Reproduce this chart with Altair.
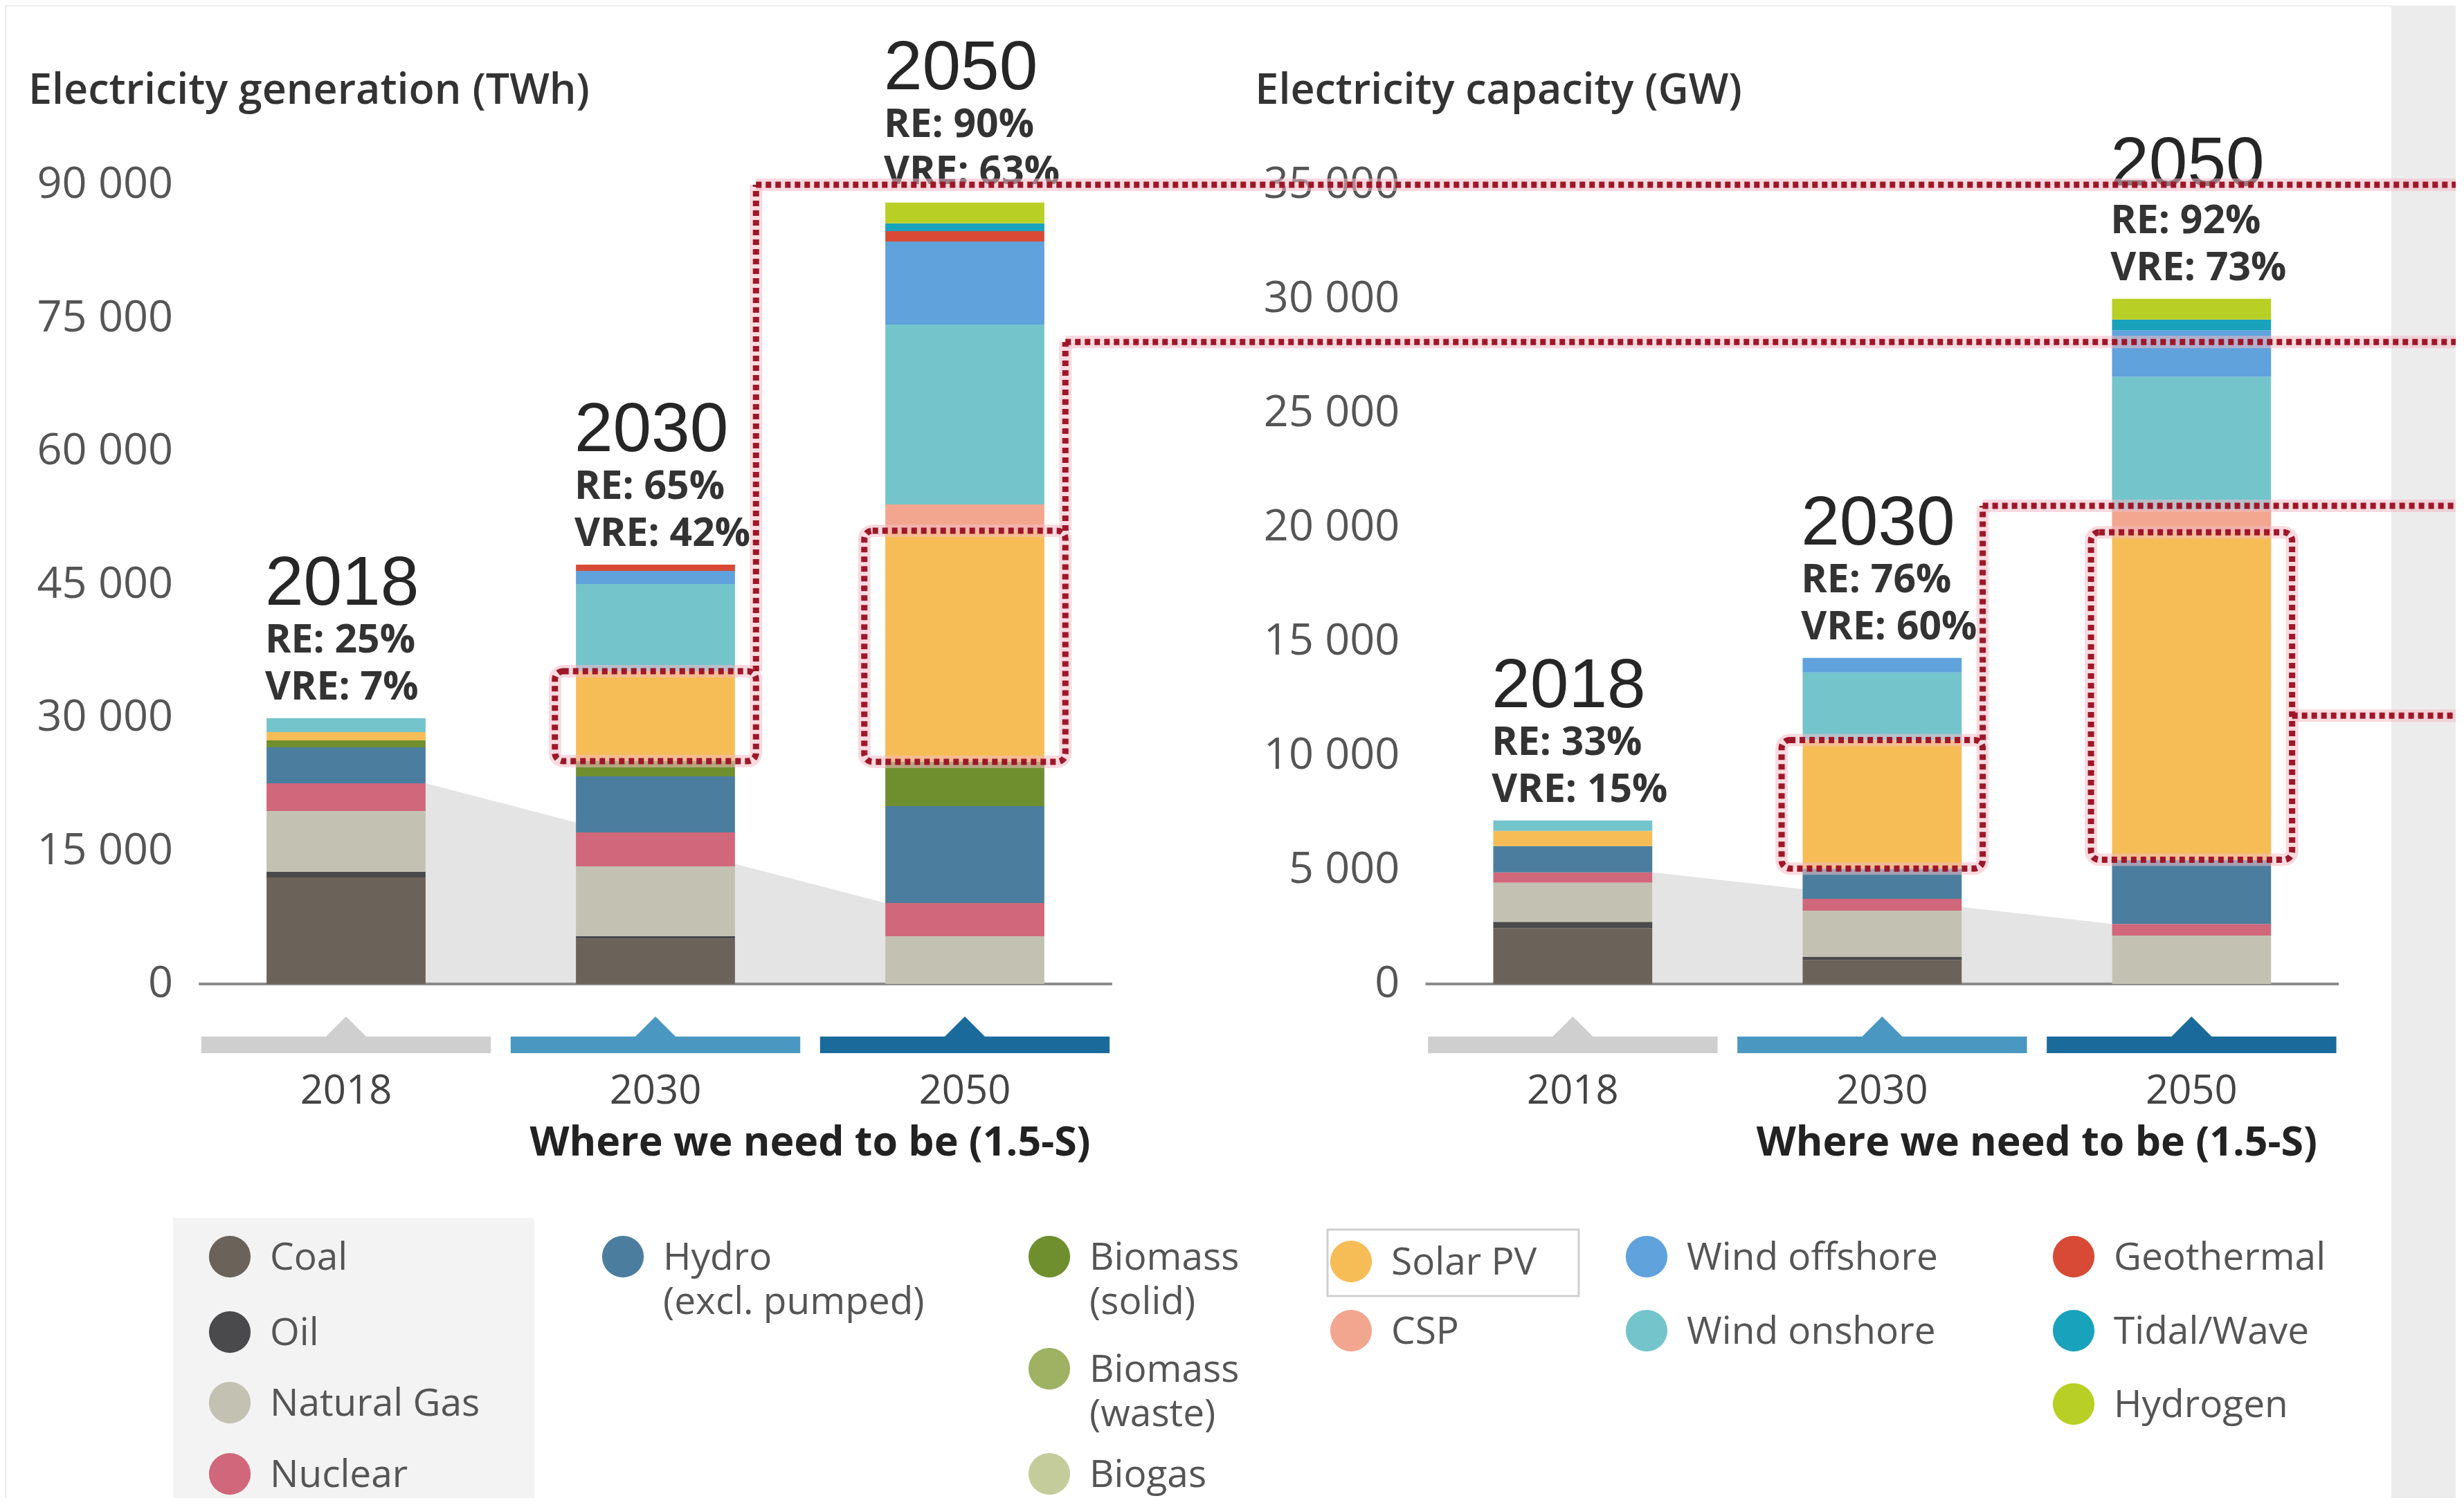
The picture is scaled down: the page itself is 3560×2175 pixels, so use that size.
import altair as alt
import pandas as pd

# ---------------- data ----------------
years = ["2018", "2030", "2050"]
techs = ["Coal", "Oil", "Natural Gas", "Nuclear", "Hydro (excl. pumped)",
         "Biomass (solid)", "Biomass (waste)", "Biogas", "Solar PV", "CSP",
         "Wind onshore", "Wind offshore", "Geothermal", "Tidal/Wave", "Hydrogen"]
tech_colors = ["#6b625a", "#4a4a4c", "#c3c1b2", "#d0677a", "#4b7e9e",
               "#6f8f2f", "#9fb163", "#c5cc9c", "#f6bd57", "#f2a690",
               "#74c4cc", "#5fa2dc", "#d84a36", "#19a2bb", "#b8cf25"]
fossil_techs = ["Coal", "Oil", "Natural Gas", "Nuclear"]

# Electricity generation (TWh)
gen_2018 = [12000, 620, 6860, 3120, 4050, 780, 0, 0, 940, 0, 1560, 0, 0, 0, 0]
gen_2030 = [5080, 300, 7870, 3820, 6310, 1715, 0, 0, 10130, 0, 9820, 1480, 700, 0, 0]
gen_2050 = [0, 0, 5380, 3740, 10910, 4990, 0, 0, 26030, 2960, 20260, 9350, 1170, 860, 2340]
# Electricity capacity (GW)
cap_2018 = [2450, 270, 1720, 450, 1150, 0, 0, 0, 665, 0, 455, 0, 0, 0, 0]
cap_2030 = [1050, 130, 2030, 515, 1330, 0, 0, 0, 5630, 0, 2960, 635, 0, 0, 0]
cap_2050 = [0, 0, 2120, 510, 2810, 0, 0, 0, 14340, 1000, 5810, 2030, 0, 480, 910]

gen_re = ["RE: 25%", "RE: 65%", "RE: 90%"]
gen_vre = ["VRE: 7%", "VRE: 42%", "VRE: 63%"]
cap_re = ["RE: 33%", "RE: 76%", "RE: 92%"]
cap_vre = ["VRE: 15%", "VRE: 60%", "VRE: 73%"]

gen_ticks = [0, 15000, 30000, 45000, 60000, 75000, 90000]
cap_ticks = [0, 5000, 10000, 15000, 20000, 25000, 30000, 35000]

panel_titles = ["Electricity generation (TWh)", "Electricity capacity (GW)"]
scenario_label = "Where we need to be (1.5-S)"
band_colors = ["#cfcfcf", "#4a97c2", "#1a6b9b"]

# connector levels (in each panel's own units)
gen_link_levels = [90000, 72300]      # from 2030 box, 2050 box
cap_link_levels = [20940, 11750]      # from 2030 box, 2050 box (2050 goes straight right)

legend_items = [  # label, column, row (pixel row centre)
    ("Coal", 0, 1816), ("Oil", 0, 1925), ("Natural Gas", 0, 2027), ("Nuclear", 0, 2130),
    ("Hydro (excl. pumped)", 1, 1816),
    ("Biomass (solid)", 2, 1816), ("Biomass (waste)", 2, 1978), ("Biogas", 2, 2130),
    ("Solar PV", 3, 1823), ("CSP", 3, 1923),
    ("Wind offshore", 4, 1816), ("Wind onshore", 4, 1923),
    ("Geothermal", 5, 1816), ("Tidal/Wave", 5, 1923), ("Hydrogen", 5, 2029),
]
legend_text = {"Hydro (excl. pumped)": "Hydro\n(excl. pumped)",
               "Biomass (solid)": "Biomass\n(solid)",
               "Biomass (waste)": "Biomass\n(waste)"}

# ---------------- layout ----------------
W, H = 3540, 2157
SLOT = 447.0          # px between bar centres
X_ORIGIN = 500.0      # page px of first bar centre
Y_ZERO = 1422.0       # page px of the zero line
PX_PER_UNIT = 0.012833
CAP_FACTOR = 90000 / 35000  # GW -> plot units (both panels share pixel scale)
PANEL_OFF = [0.0, 3.965]
HALF_BAR = 0.257


def px2x(px):
    return (px - X_ORIGIN) / SLOT


def px2y(py):
    return (Y_ZERO - py) / PX_PER_UNIT


xdom = [px2x(8), px2x(8 + W)]
ydom = [px2y(8 + H), px2y(8)]
XS = alt.Scale(domain=xdom, nice=False, zero=False)
YS = alt.Scale(domain=ydom, nice=False, zero=False)


def X(f):
    return alt.X(f, type="quantitative", scale=XS, axis=None)


def Y(f):
    return alt.Y(f, type="quantitative", scale=YS, axis=None)


panels = [
    dict(vals=[gen_2018, gen_2030, gen_2050], factor=1.0, re=gen_re, vre=gen_vre,
         ticks=gen_ticks, links=gen_link_levels),
    dict(vals=[cap_2018, cap_2030, cap_2050], factor=CAP_FACTOR, re=cap_re, vre=cap_vre,
         ticks=cap_ticks, links=cap_link_levels),
]

bar_rows, ann_rows, area_rows, tick_rows = [], [], [], []
band_rows, xlab_rows, axis_rows, title_rows, sub_rows = [], [], [], [], []
box_rows, vline_rows, hline_rows = [], [], []

for p, pan in enumerate(panels):
    off = PANEL_OFF[p]
    f = pan["factor"]
    solar_span = []
    fossil = []
    for i, yr in enumerate(years):
        c = off + i
        base = 0.0
        fos = 0.0
        s0 = s1 = 0.0
        for t, v in zip(techs, pan["vals"][i]):
            if t in fossil_techs:
                fos += v
            if v <= 0:
                continue
            if t == "Solar PV":
                s0, s1 = base * f, (base + v) * f
            bar_rows.append(dict(tech=t, xa=c - HALF_BAR, xb=c + HALF_BAR,
                                 y0=base * f, y1=(base + v) * f))
            base += v
        fossil.append(fos * f)
        solar_span.append((s0, s1))
        ann_rows.append(dict(x=c - HALF_BAR - 0.005, y=base * f, year=yr,
                             re=pan["re"][i], vre=pan["vre"][i]))
        band_rows.append(dict(xa=c - 0.468, xb=c + 0.468, y0=px2y(1522), y1=px2y(1498),
                              x=c, col=band_colors[i]))
        xlab_rows.append(dict(x=c, y=px2y(1578), label=yr))
    # grey area showing the falling non-renewable share
    area_rows.append(dict(panel=p, x=off + HALF_BAR, y=fossil[0]))
    area_rows.append(dict(panel=p, x=off + 2 - HALF_BAR, y=fossil[2]))
    for tv in pan["ticks"]:
        tick_rows.append(dict(x=off + px2x(250), y=tv * f, label=f"{tv:,}".replace(",", " ")))
    axis_rows.append(dict(xa=off - 0.476, xb=off + 2.476, y=0))
    title_rows.append(dict(x=off + px2x(41), y=px2y(132), label=panel_titles[p]))
    sub_rows.append(dict(x=off + 1.5, y=px2y(1652), label=scenario_label))
    # dotted boxes around solar PV (2030, 2050)
    for k, i in enumerate([1, 2]):
        c = off + i
        s0, s1 = solar_span[i]
        box_rows.append(dict(xa=c - 0.325, xb=c + 0.325, y0=s0, y1=s1))
        lvl = pan["links"][k] * f
        if lvl > s1:
            vline_rows.append(dict(x=c + 0.325, y0=s1, y1=lvl))
        hline_rows.append(dict(xa=c + 0.325, xb=xdom[1], y=lvl))

bars = pd.DataFrame(bar_rows)
ann = pd.DataFrame(ann_rows)
area = pd.DataFrame(area_rows)
ticks = pd.DataFrame(tick_rows)
bands = pd.DataFrame(band_rows)
xlabs = pd.DataFrame(xlab_rows)
axes = pd.DataFrame(axis_rows)
titles = pd.DataFrame(title_rows)
subs = pd.DataFrame(sub_rows)
boxes = pd.DataFrame(box_rows)
vlines = pd.DataFrame(vline_rows)
hlines = pd.DataFrame(hline_rows)

# legend table
legend_col_px = [332, 900, 1516, 1952, 2379, 2996]
leg_pts, leg_txt = [], []
for label, col, row in legend_items:
    cx = px2x(legend_col_px[col])
    leg_pts.append(dict(x=cx, y=px2y(row), tech=label))
    for j, line in enumerate(legend_text.get(label, label).split("\n")):
        leg_txt.append(dict(x=cx, y=px2y(row + 2 + 64 * j), label=line))
leg_pts = pd.DataFrame(leg_pts)
leg_txt = pd.DataFrame(leg_txt)

FONT = "Open Sans"
YEARFONT = "Liberation Sans Narrow, Liberation Sans, Arial, sans-serif"
RED = "#9e1729"
color_enc = alt.Color("tech:N", scale=alt.Scale(domain=techs, range=tech_colors), legend=None)

# decorative backgrounds
deco = pd.DataFrame([
    dict(xa=px2x(3455), xb=xdom[1], y0=ydom[0], y1=ydom[1], fill="#ececec"),
    dict(xa=px2x(250), xb=px2x(772), y0=ydom[0], y1=px2y(1760), fill="#f3f3f3"),
])
deco_layer = alt.Chart(deco).mark_rect().encode(
    x=X("xa"), x2="xb", y=Y("y0"), y2="y1",
    fill=alt.Fill("fill:N", scale=None))

solar_box = alt.Chart(pd.DataFrame([dict(xa=px2x(1918), xb=px2x(2281),
                                         y0=px2y(1873), y1=px2y(1777))])).mark_rect(
    fill="white", stroke="#cfcfcf", strokeWidth=3).encode(
    x=X("xa"), x2="xb", y=Y("y0"), y2="y1")

area_layer = alt.Chart(area).mark_area(color="#e4e4e4", opacity=1).encode(
    x=X("x"), y=Y("y"), y2=alt.datum(0), detail="panel:N")

axis_layer = alt.Chart(axes).mark_rule(color="#8c8c8c", strokeWidth=4).encode(
    x=X("xa"), x2="xb", y=Y("y"))

bar_layer = alt.Chart(bars).mark_rect().encode(
    x=X("xa"), x2="xb", y=Y("y0"), y2="y1", color=color_enc)

band_layer = alt.Chart(bands).mark_rect().encode(
    x=X("xa"), x2="xb", y=Y("y0"), y2="y1", fill=alt.Fill("col:N", scale=None))
tri_layer = alt.Chart(bands).mark_point(shape="M-1,0L0,-1L1,0Z", filled=True,
                                         size=3364, opacity=1).encode(
    x=X("x"), y=Y("y1"), fill=alt.Fill("col:N", scale=None))

xlab_layer = alt.Chart(xlabs).mark_text(font=FONT, fontSize=58, color="#444",
                                        baseline="middle", align="center").encode(
    x=X("x"), y=Y("y"), text="label:N")
sub_layer = alt.Chart(subs).mark_text(font=FONT, fontSize=59, fontWeight="bold",
                                      color="#222", baseline="middle", align="center").encode(
    x=X("x"), y=Y("y"), text="label:N")
tick_layer = alt.Chart(ticks).mark_text(font=FONT, fontSize=63, color="#555",
                                        baseline="middle", align="right").encode(
    x=X("x"), y=Y("y"), text="label:N")
title_layer = alt.Chart(titles).mark_text(font=FONT, fontSize=61, fontWeight=600,
                                          color="#333", baseline="middle", align="left").encode(
    x=X("x"), y=Y("y"), text="label:N")

yr_layer = alt.Chart(ann).mark_text(font=YEARFONT, fontSize=100, color="#262626",
                                    baseline="alphabetic", align="left", dy=-164).encode(
    x=X("x"), y=Y("y"), text="year:N")
re_layer = alt.Chart(ann).mark_text(font=FONT, fontSize=57, fontWeight="bold", color="#333",
                                    baseline="alphabetic", align="left", dy=-95).encode(
    x=X("x"), y=Y("y"), text="re:N")
vre_layer = alt.Chart(ann).mark_text(font=FONT, fontSize=57, fontWeight="bold", color="#333",
                                     baseline="alphabetic", align="left", dy=-27).encode(
    x=X("x"), y=Y("y"), text="vre:N")

# dotted red highlight boxes and connectors
HALO = "#f3bcc4"
halo_box = alt.Chart(boxes).mark_rect(fillOpacity=0, stroke=HALO, strokeWidth=18,
                                      cornerRadius=12, strokeOpacity=0.55).encode(
    x=X("xa"), x2="xb", y=Y("y0"), y2="y1")
box_layer = alt.Chart(boxes).mark_rect(fillOpacity=0, stroke=RED, strokeWidth=9,
                                       strokeDash=[8, 6], cornerRadius=12).encode(
    x=X("xa"), x2="xb", y=Y("y0"), y2="y1")
halo_v = alt.Chart(vlines).mark_rule(color=HALO, strokeWidth=18, opacity=0.55).encode(
    x=X("x"), y=Y("y0"), y2="y1")
v_layer = alt.Chart(vlines).mark_rule(color=RED, strokeWidth=9, strokeDash=[8, 6]).encode(
    x=X("x"), y=Y("y0"), y2="y1")
halo_h = alt.Chart(hlines).mark_rule(color=HALO, strokeWidth=18, opacity=0.55).encode(
    x=X("xa"), x2="xb", y=Y("y"))
h_layer = alt.Chart(hlines).mark_rule(color=RED, strokeWidth=9, strokeDash=[8, 6]).encode(
    x=X("xa"), x2="xb", y=Y("y"))

leg_pt_layer = alt.Chart(leg_pts).mark_point(shape="circle", filled=True, size=3630,
                                             opacity=1).encode(
    x=X("x"), y=Y("y"), color=color_enc)
leg_txt_layer = alt.Chart(leg_txt).mark_text(font=FONT, fontSize=55, color="#555",
                                             baseline="middle", align="left", dx=58).encode(
    x=X("x"), y=Y("y"), text="label:N")

chart = alt.layer(
    deco_layer, solar_box, area_layer, axis_layer, bar_layer, band_layer, tri_layer,
    xlab_layer, sub_layer, tick_layer, title_layer, yr_layer, re_layer, vre_layer,
    halo_box, halo_v, halo_h, box_layer, v_layer, h_layer,
    leg_pt_layer, leg_txt_layer,
).properties(
    width=W, height=H, padding=0,
    autosize=alt.AutoSizeParams(type="none"),
).configure_view(stroke=None).configure(background="white")

chart.save("out.html", embed_options={"renderer": "svg", "actions": False})
